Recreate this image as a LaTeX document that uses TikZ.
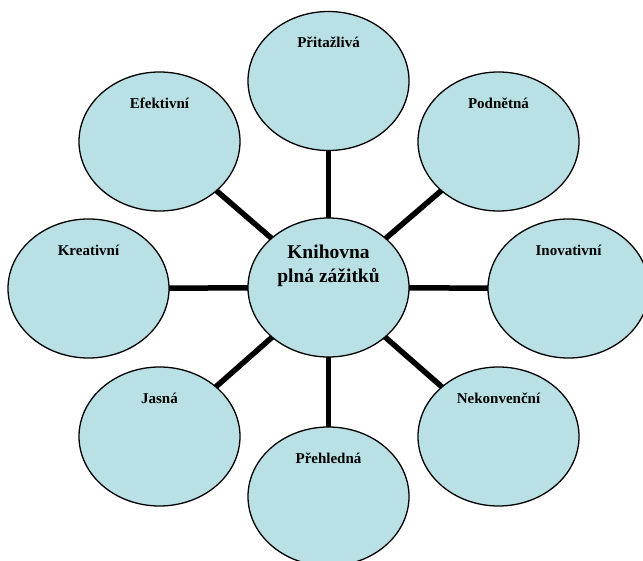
\documentclass[tikz,border=0pt]{standalone}
\usepackage{fontspec}
\setmainfont{Liberation Serif}
\usetikzlibrary{shapes.geometric,backgrounds}
\definecolor{bubble}{RGB}{185,224,228}
\tikzset{
  bubble/.style={ellipse, draw=black, line width=1.3pt, fill=bubble,
    minimum width=161pt, minimum height=139pt, inner sep=0pt},
  lbl/.style={anchor=base, font=\fontsize{15}{18}\selectfont\bfseries, inner sep=0pt},
  hublbl/.style={anchor=base, align=center, font=\fontsize{19.5}{24}\selectfont\bfseries, inner sep=0pt},
  spoke/.style={line width=5.5pt, black}
}
\begin{document}
\begin{tikzpicture}[x=1pt,y=-1pt]
\useasboundingbox (0,0) rectangle (643,561);
\node[bubble] (hub) at (328.5,287.5) {};
\node[bubble] (pri) at (328.5,81) {};
\node[bubble] (efe) at (159.5,141.5) {};
\node[bubble] (pod) at (498.5,141.5) {};
\node[bubble] (kre) at (88.5,288.5) {};
\node[bubble] (ino) at (568.5,288.5) {};
\node[bubble] (jas) at (159.5,436.5) {};
\node[bubble] (nek) at (498.5,436.5) {};
\node[bubble] (pre) at (328.5,496.5) {};
\begin{scope}[on background layer]
\foreach \n in {pri,efe,pod,kre,ino,jas,nek,pre}
  \draw[spoke] (hub.center) -- (\n.center);
\end{scope}
\node[hublbl] (thub) at (328.5,283) {Knihovna\\plná zážitků};
\node[lbl] (tpri) at (328.5,48) {Přitažlivá};
\node[lbl] (tefe) at (159.5,108.5) {Efektivní};
\node[lbl] (tpod) at (498.5,108.5) {Podnětná};
\node[lbl] (tkre) at (88.5,255.5) {Kreativní};
\node[lbl] (tino) at (568.5,255.5) {Inovativní};
\node[lbl] (tjas) at (159.5,403.5) {Jasná};
\node[lbl] (tnek) at (498.5,403.5) {Nekonvenční};
\node[lbl] (tpre) at (328.5,463.5) {Přehledná};
\end{tikzpicture}
\end{document}
